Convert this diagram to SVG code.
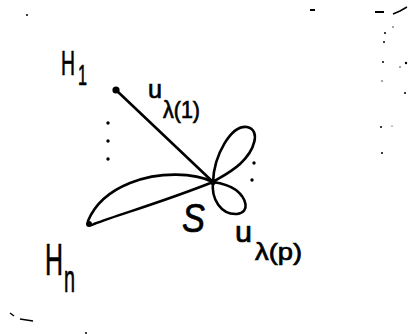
<svg xmlns="http://www.w3.org/2000/svg" width="409" height="334" viewBox="0 0 409 334">
<style>
.t{font-family:"Liberation Sans","DejaVu Sans",sans-serif;fill:#000;stroke:#000;stroke-width:0.7}
.e{fill:none;stroke:#000;stroke-width:2.6;stroke-linecap:round;stroke-linejoin:round}
.d{fill:#000}
</style>
<rect width="409" height="334" fill="#fff"/>
<g id="noise" class="d">
<circle cx="27" cy="15" r="1"/>
<rect x="310" y="9" width="5" height="2"/>
<rect x="375" y="11" width="9" height="2"/>
<path d="M393,14 L400,11 L407,7" stroke="#000" stroke-width="1.5" fill="none"/>
<circle cx="393" cy="27" r="0.7"/>
<circle cx="385" cy="33" r="1"/>
<circle cx="384" cy="42" r="1"/>
<circle cx="383" cy="62" r="1"/>
<circle cx="406" cy="63" r="1.2"/>
<circle cx="400" cy="67" r="0.7"/>
<circle cx="382" cy="81" r="0.7"/>
<circle cx="405" cy="93" r="1"/>
<circle cx="381" cy="127" r="1"/>
<circle cx="392" cy="126" r="0.6"/>
<circle cx="382" cy="153" r="1"/>
<path d="M10,313 L14,316 M20,319 L33,321" stroke="#000" stroke-width="1.4" fill="none"/>
<circle cx="86" cy="333" r="1"/>
</g>
<g id="connectors">
<path id="e1" class="e" d="M116,90 L213,182"/>
<path id="leaf" class="e" d="M213,182 C195,173 160,171 130,183 C110,191 95,204 88,221 C88,226 91,226 94,224 C120,214 160,203 213,182"/>
<path id="loop1" class="e" d="M213,182 C214,155 231,125 247,127 C261,130 255,150 240,164 C230,173 219,178 213,182"/>
<path id="loop2" class="e" d="M213,182 C211,199 221,215 237,214 C251,212 246,198 236,190 C229,185 220,183 213,182"/>
<g class="d">
<circle cx="108" cy="123" r="1.7"/>
<circle cx="108" cy="141" r="1.7"/>
<circle cx="108" cy="159" r="1.7"/>
<circle cx="254" cy="163" r="1.7"/>
<circle cx="252" cy="180" r="1.7"/>
</g>
<text class="t" x="148" y="98" font-size="26" textLength="14" lengthAdjust="spacingAndGlyphs">u</text>
<text class="t" x="163" y="118" font-size="24" textLength="37" lengthAdjust="spacingAndGlyphs">λ(1)</text>
<text class="t" x="235" y="242" font-size="29" textLength="17" lengthAdjust="spacingAndGlyphs">u</text>
<text class="t" x="255" y="260" font-size="24" textLength="47" lengthAdjust="spacingAndGlyphs">λ(p)</text>
</g>
<g id="H1">
<circle class="d" cx="116" cy="90" r="3.6"/>
<text class="t" x="61" y="75" font-size="35" textLength="14" lengthAdjust="spacingAndGlyphs">H</text>
<text class="t" x="78" y="85" font-size="30" textLength="9" lengthAdjust="spacingAndGlyphs">1</text>
</g>
<g id="Hn">
<circle class="d" cx="89" cy="224" r="3"/>
<text class="t" x="45" y="275" font-size="45" textLength="18" lengthAdjust="spacingAndGlyphs">H</text>
<text class="t" x="64" y="292" font-size="38" textLength="11" lengthAdjust="spacingAndGlyphs">n</text>
</g>
<g id="S">
<circle class="d" cx="213" cy="182" r="3"/>
<text class="t" x="182" y="232" font-size="40" font-style="italic" textLength="23" lengthAdjust="spacingAndGlyphs">S</text>
</g>
</svg>
